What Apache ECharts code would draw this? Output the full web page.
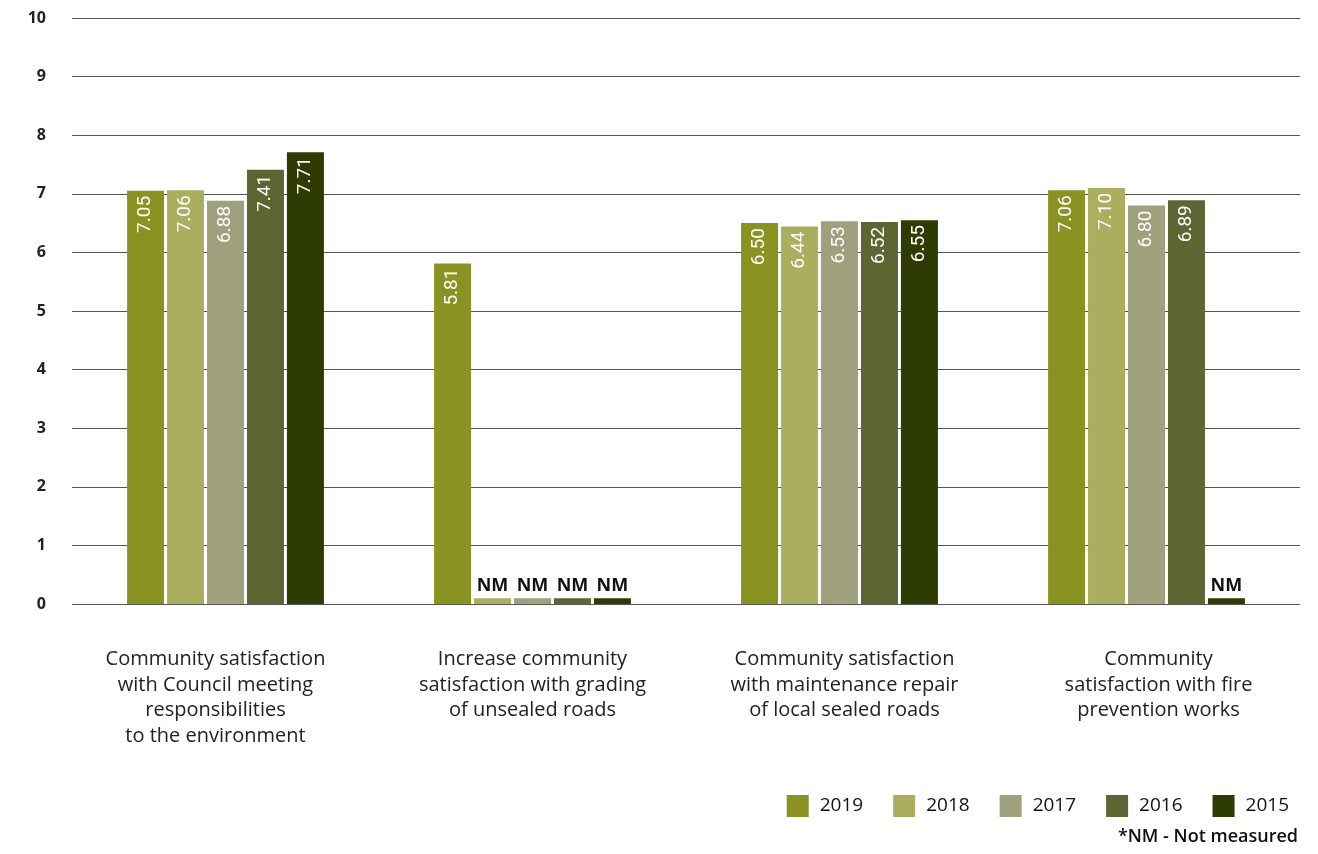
<!DOCTYPE html>
<html>
<head>
<meta charset="utf-8">
<script src="https://cdn.jsdelivr.net/npm/echarts@6/dist/echarts.min.js"></script>
<style>
  html, body { margin: 0; padding: 0; background: #ffffff; }
  #chart { width: 1318px; height: 854px; }
</style>
</head>
<body>
<div id="chart"></div>
<script>
// Survey categories (x axis)
const categories = [
  'Community satisfaction\nwith Council meeting\nresponsibilities\nto the environment',
  'Increase community\nsatisfaction with grading\nof unsealed roads',
  'Community satisfaction\nwith maintenance repair\nof local sealed roads',
  'Community\nsatisfaction with fire\nprevention works'
];

// Yearly scores; null = not measured
const years = ['2019', '2018', '2017', '2016', '2015'];
const scores2019 = [7.05, 5.81, 6.50, 7.06];
const scores2018 = [7.06, null, 6.44, 7.10];
const scores2017 = [6.88, null, 6.53, 6.80];
const scores2016 = [7.41, null, 6.52, 6.89];
const scores2015 = [7.71, null, 6.55, null];

const yTicks = { min: 0, max: 10, interval: 1 };
const notMeasuredStub = 0.1; // small placeholder bar under the "NM" tag
const footnote = '*NM - Not measured';

const colors = ['#8a9322', '#aaae5e', '#9fa07c', '#5b6632', '#2e3b03'];
const seriesValues = [scores2019, scores2018, scores2017, scores2016, scores2015];
const FONT = '"Open Sans", Roboto, sans-serif';
const NARROW = 'Roboto, "Open Sans", sans-serif';

// horizontal nudge of each category caption (px, + = right)
const captionShift = [-10, 0, 5, 12];

function buildData(values) {
  return values.map(v => {
    if (v === null) {
      return {
        value: notMeasuredStub,
        label: {
          show: true, position: 'top', rotate: 0, distance: 3,
          formatter: 'NM', color: '#111', fontSize: 18, fontWeight: 'bold',
          fontFamily: FONT, align: 'center', verticalAlign: 'bottom'
        }
      };
    }
    return { value: v };
  });
}

const series = years.map((y, i) => ({
  name: y,
  type: 'bar',
  barWidth: 37,
  barGap: '8%',
  itemStyle: { color: colors[i] },
  label: {
    show: true,
    position: 'insideTop',
    rotate: 90,
    align: 'right',
    verticalAlign: 'middle',
    distance: 5,
    color: '#ffffff',
    fontSize: 19,
    fontFamily: NARROW,
    formatter: p => p.value.toFixed(2)
  },
  data: buildData(seriesValues[i])
}));

const xData = categories.map((c, i) => {
  const s = captionShift[i];
  return {
    value: c,
    textStyle: { padding: s < 0 ? [0, -2 * s, 0, 0] : [0, 0, 0, 2 * s] }
  };
});

const chart = echarts.init(document.getElementById('chart'));
chart.setOption({
  animation: false,
  backgroundColor: '#ffffff',
  grid: { left: 72, right: 18, top: 18, bottom: 250, containLabel: false },
  legend: {
    data: years,
    right: 24,
    top: 790,
    itemWidth: 22,
    itemHeight: 22,
    itemGap: 30,
    icon: 'rect',
    textStyle: { fontSize: 19, color: '#111', fontFamily: FONT, padding: [0, 0, 0, 6] }
  },
  xAxis: {
    type: 'category',
    data: xData,
    axisLine: { show: false },
    axisTick: { show: false },
    axisLabel: {
      margin: 43,
      fontSize: 20,
      lineHeight: 25.5,
      color: '#222',
      fontFamily: FONT,
      interval: 0
    }
  },
  yAxis: {
    type: 'value',
    min: yTicks.min,
    max: yTicks.max,
    interval: yTicks.interval,
    axisLine: { show: false },
    axisTick: { show: false },
    axisLabel: {
      margin: 26,
      fontSize: 16,
      fontWeight: 'bold',
      color: '#222',
      fontFamily: FONT
    },
    splitLine: { lineStyle: { color: '#555', width: 1 } }
  },
  graphic: [{
    type: 'text',
    right: 20,
    top: 828,
    style: {
      text: footnote,
      fontSize: 18,
      fontWeight: 600,
      fill: '#111',
      fontFamily: FONT
    }
  }],
  series: series
});
</script>
</body>
</html>
